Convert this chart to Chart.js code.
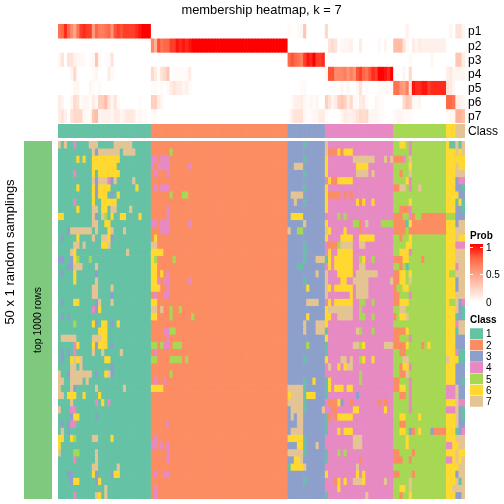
<!DOCTYPE html>
<html>
<head>
<meta charset="utf-8">
<title>membership heatmap</title>
<script src="https://cdn.jsdelivr.net/npm/chart.js@4"></script>
<style>
    html, body { margin: 0; padding: 0; background: #fff; }
    #page { position: relative; width: 504px; height: 504px; overflow: hidden; }
    canvas { position: absolute; left: 0; top: 0; }
</style>
</head>
<body>
<div id="page">
    <canvas id="probChart" width="504" height="504"></canvas>
    <canvas id="classChart" width="504" height="504"></canvas>
    <canvas id="mainChart" width="504" height="504"></canvas>
    <canvas id="stripChart" width="504" height="504"></canvas>
    <canvas id="probLegend" width="504" height="504"></canvas>
    <canvas id="classLegend" width="504" height="504"></canvas>
</div>
<script>
var classNames = ['1', '2', '3', '4', '5', '6', '7'];
var classColors = ['#66C2A5', '#FC8D62', '#8DA0CB', '#E78AC3', '#A6D854', '#FFD92F', '#E5C494'];
var classSizes = [30, 44, 12, 22, 17, 3, 3];

var probNames = ['p1', 'p2', 'p3', 'p4', 'p5', 'p6', 'p7'];
var probTicks = [1, 0.5, 0];
var probStops = [
    [0, '#FFFFFF'], [0.25, '#FFD0BF'], [0.5, '#FF9E81'], [0.75, '#FF6846'], [1, '#FF0000']
];

var p1 = [[0, .7, .75, .9, .75, .6, .45, .7, .85, .9, .85, .85, .5, .75, .65, .65, .7, .75, .55, .8, .85, .8, .85, .85, .85, .85, .9, .95, 1, 1, 1],
    [74, .03], [77, .03, .05, .3], [86, .2], [112, .07], [126, .05], [128, .15, .15, .05]];
var p2 = [[30, .6, .4, .8, .7, .75, .75, .85, .85, .95, .9, .95, .9, .95, 1, 1, 1, 1, 1, 1, 1, 1, 1, 1, 1, 1, 1, 1, 1, 1, 1, 1, 1, 1, 1, 1, 1, 1, 1, 1, 1, 1, 1, 1, 1],
    [87, .15, .2, .15], [91, .04, .05, .05, .08], [97, .1], [103, .04], [105, .05],
    [108, .35, .35, .35, .15, .03], [114, .1, .05, .1, .08, .08, .08, .08, .08, .08, .08, .08]];
var p3 = [[0, .05, .15, 0, .15, .15, .07, .05, .03, .03, 0, .02, .05, .3, .03, 0, .02, .02, .15],
    [74, .75, .8, .75, .7, .65, .85, .95, .9, 1, .85, .85, .9], [113, .03], [120, .05], [128, .3, .3, .1]];
var p4 = [[4, .05, .2, .02], [11, .03, .05], [16, .1, .03],
    [30, .2, .1, .03, .15, .2, .3, 0, .02, .02, .02, .02, .02, .1],
    [86, .05, .8, .8, .6, .6, .6, .65, .55, .65, .55, .8, .85, .75, .7, .8, .9, .85, 1, 1, .95, .9, 1],
    [111, .05, 0, .2], [125, .08, .12, .05, .05, .05, .05]];
var p5 = [[5, .05, .05], [10, .05, .02], [13, .03], [30, .02, .03, 0, .02, 0, .02, .1, .15, .1, .1, .05, .08, .03],
    [78, .03, .03], [91, .05], [93, .05], [96, .05, .15], [99, .03], [103, .03, .03, .03, .03, .03],
    [108, .7, .7, .55, .5, .65, .15, .95, .9, .9, .95, .95, .85, .9, .9, .9, .9, .9, .15, .12, .05]];
var p6 = [[0, .1, .05, 0, 0, .05, .2, .15, .02, .05, .05, .02, .1, .03, .25, .25, .35, .15, .05, .15, .03], [26, .02],
    [30, .25, .25, .1, .05], [75, .03, .08, .08, .1, .05, .02, .05, .02, .06],
    [86, .25, .15, .05, .1, .25, .3, .25, .1, .2, .03, .03, .1, .12, .03], [102, .05, .03, .02],
    [111, .2, .3, .25, .05, .03, .05], [125, .75, .75, .7, .1, .08, .05]];
var p7 = [[0, .1, .15, .08, 0, .15, .2, .2, .2, .05, .03, .03, .3, .35, .05, .08, .08, .08, .05, .1, .1, .05, .08, .12, .12, .1, .02, .05, .02, .02],
    [30, .03, .03], [74, .02, .1, .15, .15, .15, .05, .02, .02, .05, .05, .1, .1, .02],
    [91, .05, .1, .08, .08, .1, .15, .2, .18, .2, .05, .05, .05, .03, .02],
    [108, .03, .05, .05, .03, .03, .02], [125, .02, .05, .05, .4, .4, .35]];
var probRows = [p1, p2, p3, p4, p5, p6, p7];

// one line per heatmap row: cells that differ from the class of their column
var rowPatches = [
    '0:7 2:7 5:4 10-12:7 18-23:7 79:1 86:7 110-111:6 113:4 126-127:1 129:1',
    '11:7 12:3 13-19:7 21-24:7 36:5 86:7 87-89:2 90:6 91:2 92-94:6 113:4 129:6',
    '6:6 8:6 11-19:6 30-31:4 33-35:4 79:1 86:6 95-101:7 105:7 107:7 108-110:2 111:4 113:7 128-130:6',
    '11-18:6 30:4 32-35:4 42:4 76-78:7 86:6 96-99:6 113:6 129-130:6',
    '5:4 11:6 13-19:6 31:4 35:4 79:1 86:6 96-99:7 101:7 110:2 113:7',
    '11:7 12:3 13-15:7 16:4 17:3 18:7 24:7 87:6 88-89:2 90-94:6 112:6 113:4 128:3 129-130:4',
    '6:6 11:6 12:3 13-16:6 25:6 31:4 33-35:4 79:1 86:6 108-109:2 110-111:7 113:4 116:7 128-129:3 130:1',
    '11:6 12:3 13-15:6 17:3 19:6 36:5 40-41:5 75-78:7 86:6 87-90:2 92:2 94:2 128:6 129-130:3',
    '5:4 11:6 14-18:6 76:7 79:1 86:6 96:6 97:2 98:6 101:6 113:6 128:1 129:6 130:1',
    '6:6 11-12:7 14-15:6 17-18:7 23:7 35:4 86:6 110-112:2 113:4 128-129:3 130:1',
    '0-1:6 11:7 12:3 14:7 15:5 17:6 20-21:6 26:6 35:4 75-78:6 90:5 92:5 108-110:2 113:4 114:2 117-124:2 125-127:5 128-130:3',
    '11-12:7 15-16:6 30-31:4 33-35:4 42:4 79:7 86:6 95-96:5 97:2 99:7 104-107:5 108-111:2 112:1 113:6 114-124:2 128:3',
    '3:3 4-10:7 12:7 16:6 17:7 21:7 33-35:4 74:7 77-78:5 86:7 87:6 92:6 97:2 108-111:2 113-124:2',
    '1:3 6:6 11:7 14-15:7 16:6 17:3 31:6 86:6 91-94:6 97-101:6 110:2 113:6 129-130:6',
    '5-6:7 8:7 14-15:6 16:7 30-31:7 79:1 87-89:2 90:5 91-94:7 97-98:7 112:6 113:6 128-130:4',
    '4:7 5:6 22:7 30-33:6 79:1 87:6 90-94:6 110-112:6 113:4',
    '0-1:3 4:3 5:6 6:5 10:5 30:6 31:5 37:5 79:1 83-85:7 86:1 87:6 89-94:6 97:5 98:6 101:5 108-110:2 111-112:6 117:2',
    '3-4:3 5-7:7 12:7 30-31:6 77-78:1 87:6 89-94:6 97-98:7 110:2 112:1 128:4',
    '1:3 5:6 12:3 30-31:6 33:6 35:4 83:7 86:7 90-94:6 96-102:7 108-109:2 110-111:6 113:6 126-127:5',
    '5:6 12:7 30-31:6 32:4 34-35:4 42:4 79:1 86:7 91-92:6 95-99:7 107:7 108-109:2 110-111:6 113:7 128:3',
    '11-12:7 17:7 30-32:6 35:4 80:6 86:7 87:6 89-94:6 96-99:7 108:2 111-112:6 128:3',
    '11-12:7 17:3 31:4 34-35:4 86:7 94:6 96-99:7 108-109:2 113:4',
    '1:3 5-6:6 12:3 13:7 17:7 30-31:6 80-83:7 87:6 89-94:6 97-98:5 101:5 108-109:2 110-112:6 126-127:5 129:3 130:4',
    '11:4 12:3 13:6 30-31:7 33:7 36:5 39:5 86:6 87-94:7 97:5 110-111:7 129:3 130:1',
    '1:3 3:3 30-31:6 36:5 43:5 80:6 86-87:6 90-94:7 97-98:5 101:5 108:2 110-111:6 112:7 128:1 129:3 130:1',
    '5:5 11:6 12:3 14-15:6 17:3 19:6 79:7 83-85:7 86:6 128:4',
    '13-15:6 34-35:4 36-37:5 79:7 83-85:7 86:1 96:7 97:5 101:5 108-111:2 112:6 128:1',
    '1-5:7 11-13:7 14-15:6 35:4 86:6 108-109:2 113:4 128-130:3',
    '5:4 6:6 11:6 12:3 13-15:6 17:3 30-31:5 33:5 34-35:4 37-39:5 80:5 86:1 95-96:7 97:5 98:6 105-107:7 108-111:2 112:6 117:2 119:6 128-130:3',
    '1:3 3:3 5:4 11:7 14:7 20:7 31:4 86:1 110-111:2 128:4 129-130:1',
    '1:3 4:6 5:7 6:6 7:7 15-16:6 30-31:5 36-39:5 41:5 79:1 86:6 91-92:7 94:7 97:5 98:6 101:6 111-112:7 125:7 128:6 129-130:1',
    '4-5:7 7:7 17:3 87:7 90:6 92:6 93-94:7 110:2 111-112:6 113:4 128-130:3',
    '0:7 3:3 4-10:7 12:3 15:6 16:7 17:3 36:5 97:5 110-111:2 112:7 128-130:3',
    '0-1:7 4-7:7 9:7 31:4 34:4 79:1 82:6 86:1 87:6 97:5 108-109:2 113:4 128-129:3 130:1',
    '0:7 4:7 5:3 12:7 21:7 30-33:6 74-78:7 79:1 86:1 87:6 89-91:6 93-94:6 108-109:2 110-111:6 113:4 125-127:4 129-130:3',
    '0-1:7 3-5:6 8:6 13:6 74:6 75-78:7 79:1 80-82:6 86:1 96:3 110-111:2 113:4 125-127:4 129-130:3',
    '4:7 12:4 14:6 16:4 74-78:7 79:1 87-89:2 90:6 91:3 94:2 103:2 105:2 113:4 129-130:4',
    '0:7 4-5:4 75-78:7 79:1 85:7 88-89:2 95-96:6 105:6 113:4 125-127:4 129:3 130:1',
    '4:3 5-6:6 12:3 75:7 77-78:7 86:1 87:2 89:2 90-94:6 110-111:6 116:6 129:3 130:1',
    '1:3 3:3 4-5:4 35:4 77-78:7 86:1 110-111:2 129-130:3',
    '1:7 3:3 75-78:7 86:1 90:6 92-94:6 110-111:6 113:3 114:2 116:6 120:3 121-124:2 128:1 129:3 130:4',
    '0-1:6 4:6 5:5 11-12:7 17:6 31:4 74-78:6 79:1 95-97:7 112:6',
    '0:6 30-31:4 33:4 35:4 77-78:6 79:1 83:7 95-97:7 112:6 125-126:4 128:6',
    '0:7 5-6:5 12:7 35:4 74-78:7 79:1 86:1 90:5 92:5 108-109:2 114:2 129-130:6',
    '5:4 12:7 35:4 76-77:6 78:7 86:1 97:2 108-110:2 113:2 125-126:4 129:6',
    '11-12:7 19:7 74:1 75-78:6 79:7 96:7 128:6',
    '3-4:3 11:6 12:3 17:3 18-19:6 31:4 34-35:4 86:6 96:6 98:6 108-109:2 114:2 128:3',
    '4:3 5-6:6 12:3 13:6 79:1 89:2 90:6 92:6 95-97:7 98:6 105:7 113:7 129:1',
    '15:7 31:4 90:6 110-111:6 113:7 127:7',
    '5:4 12:7 13:6 15:7 31:4 86:1 99:7 110:2 113:6 128-129:3'
];

Chart.defaults.font.family = '"Liberation Sans", Arial, sans-serif';
Chart.defaults.color = '#000';

function columnClasses()
{
    var cols = [];
    classSizes.forEach(function (size, k) {
        for (var i = 0; i < size; i++) cols.push(k);
    });
    return cols;
}

function patchedRow(patch)
{
    var cols = columnClasses();
    patch.split(' ').forEach(function (item) {
        var parts = item.split(':');
        var range = parts[0].split('-');
        var from = parseInt(range[0]);
        var to = parseInt(range[range.length - 1]);
        for (var c = from; c <= to; c++) cols[c] = parseInt(parts[1]) - 1;
    });
    return cols.map(function (k) { return classColors[k]; });
}

function hexToRgb(hex)
{
    return [1, 3, 5].map(function (i) { return parseInt(hex.substr(i, 2), 16); });
}

function probColor(v)
{
    for (var i = 1; i < probStops.length; i++) {
        if (v <= probStops[i][0]) {
            var a = probStops[i - 1], b = probStops[i];
            var t = (v - a[0]) / (b[0] - a[0]);
            var ca = hexToRgb(a[1]), cb = hexToRgb(b[1]);
            return 'rgb(' + ca.map(function (x, j) { return Math.round(x + (cb[j] - x) * t); }).join(',') + ')';
        }
    }
    return probStops[probStops.length - 1][1];
}

function probRowColors(segments)
{
    var total = columnClasses().length;
    var values = [];
    for (var i = 0; i < total; i++) values.push(0);
    segments.forEach(function (seg) {
        for (var j = 1; j < seg.length; j++) values[seg[0] + j - 1] = seg[j];
    });
    return values.map(probColor);
}

// rows of cells as floating bars, the category axis gives the columns
function heatChart(id, box, rows, opts)
{
    opts = opts || {};
    var labels = rows[0].map(function (c, i) { return i; });
    var datasets = rows.map(function (colors, r) {
        var ds = {
            data: labels.map(function () { return [r, r + 1]; }),
            backgroundColor: colors
        };
        if (opts.rowGap) {
            ds.borderColor = '#fff';
            ds.borderSkipped = false;
            ds.borderWidth = { top: opts.rowGap, bottom: opts.rowGap, left: 0, right: 0 };
        }
        return ds;
    });
    var yAxis = { display: false, type: 'linear', reverse: true, min: 0, max: rows.length };
    var right = 504 - box.right;
    if (opts.tickNames) {
        yAxis = axisWithLabels(yAxis, opts.tickNames, opts.fontSize, right);
        right = 0;
    }
    var titleHeight = opts.title ? opts.title.height : 0;
    return new Chart(document.getElementById(id), {
        type: 'bar',
        data: { labels: labels, datasets: datasets },
        options: baseOptions(box, right, titleHeight, yAxis, opts.title),
        plugins: opts.plugins || []
    });
}

function axisWithLabels(axis, names, fontSize, width)
{
    axis.display = true;
    axis.position = 'right';
    axis.grid = { display: false, drawTicks: false };
    axis.border = { display: false };
    axis.ticks = {
        autoSkip: false,
        padding: 3,
        labelOffset: 1,
        font: { size: fontSize },
        callback: function (value) { return names[Math.floor(value)]; }
    };
    axis.afterBuildTicks = function (scale) {
        scale.ticks = names.map(function (n, i) { return { value: i + 0.5 }; });
    };
    axis.afterFit = function (scale) { scale.width = width; };
    return axis;
}

function baseOptions(box, right, titleHeight, yAxis, title)
{
    return {
        responsive: false,
        animation: false,
        events: [],
        indexAxis: 'x',
        layout: {
            padding: { left: box.left, right: right, top: box.top - titleHeight, bottom: 504 - box.bottom }
        },
        datasets: { bar: { grouped: false, barPercentage: 1, categoryPercentage: 1 } },
        scales: { x: { display: false }, y: yAxis },
        plugins: {
            legend: { display: false },
            tooltip: { enabled: false },
            title: title ? {
                display: true,
                fullSize: !!title.fullSize,
                text: title.text,
                align: title.align,
                font: { size: title.size, weight: title.weight, lineHeight: 1.2 },
                padding: title.padding
            } : { display: false }
        }
    };
}

function drawProbLegend()
{
    var box = { left: 470, right: 483, top: 244, bottom: 302 };
    var title = { text: 'Prob', align: 'start', size: 10, weight: 'bold', height: 16, fullSize: true, padding: { top: 2, bottom: 2 } };
    var yAxis = {
        type: 'linear', min: 0, max: 1.06, position: 'right',
        grid: { display: true, color: '#fff', drawTicks: false, z: 1 },
        border: { display: false, dash: [3, 7] },
        ticks: {
            autoSkip: false, padding: 3, labelOffset: 1, font: { size: 10 },
            callback: function (value) { return String(value); }
        },
        afterBuildTicks: function (scale) {
            scale.ticks = probTicks.map(function (v) { return { value: v }; });
        },
        afterFit: function (scale) { scale.width = 504 - box.right; }
    };
    new Chart(document.getElementById('probLegend'), {
        type: 'bar',
        data: {
            labels: ['Prob'],
            datasets: [{
                data: [[0, 1.06]],
                backgroundColor: function (context) {
                    var area = context.chart.chartArea;
                    if (!area) return probStops[2][1];
                    var grad = context.chart.ctx.createLinearGradient(0, area.bottom, 0, area.top);
                    probStops.forEach(function (s) { grad.addColorStop(s[0], s[1]); });
                    return grad;
                }
            }]
        },
        options: baseOptions(box, 0, title.height, yAxis, title)
    });
}

var sideTexts = {
    id: 'sideTexts',
    afterDraw: function (chart) {
        var ctx = chart.ctx;
        [['50 x 1 random samplings', 10.5, 252, 13], ['top 1000 rows', 38, 320, 10.5]].forEach(function (t) {
            ctx.save();
            ctx.translate(t[1], t[2]);
            ctx.rotate(-Math.PI / 2);
            ctx.font = t[3] + 'px "Liberation Sans", Arial, sans-serif';
            ctx.fillStyle = '#000';
            ctx.textAlign = 'center';
            ctx.textBaseline = 'middle';
            ctx.fillText(t[0], 0, 0);
            ctx.restore();
        });
    }
};

heatChart('probChart', { left: 58, right: 465, top: 24, bottom: 123 }, probRows.map(probRowColors), {
    tickNames: probNames,
    fontSize: 12,
    title: { text: 'membership heatmap, k = 7', align: 'center', size: 12.9, weight: 'normal', height: 24, padding: { top: 3, bottom: 5.52 } }
});

heatChart('classChart', { left: 58, right: 465, top: 124, bottom: 138 },
    [columnClasses().map(function (k) { return classColors[k]; })],
    { tickNames: ['Class'], fontSize: 12 });

heatChart('mainChart', { left: 58, right: 465, top: 141, bottom: 499 }, rowPatches.map(patchedRow));

heatChart('stripChart', { left: 24, right: 52, top: 141, bottom: 499 }, [['#7FC97F']], { plugins: [sideTexts] });

drawProbLegend();

heatChart('classLegend', { left: 470, right: 483, top: 328, bottom: 407 },
    classColors.map(function (c) { return [c]; }), {
        tickNames: classNames,
        fontSize: 10,
        rowGap: 0.5,
        title: { text: 'Class', align: 'start', size: 10, weight: 'bold', height: 16, fullSize: true, padding: { top: 2, bottom: 2 } }
    });
</script>
</body>
</html>
